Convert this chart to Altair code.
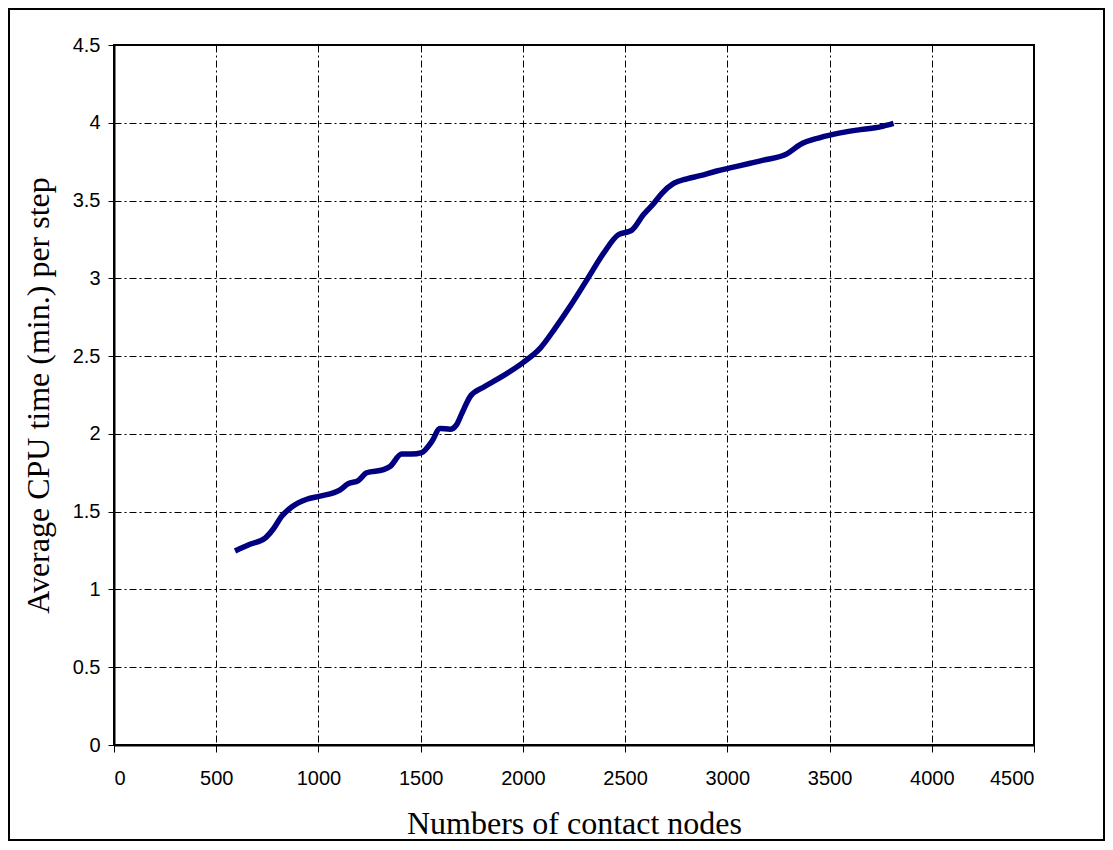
import altair as alt
import pandas as pd

nodes = [592, 665, 739, 780, 820, 869, 943, 1008, 1106, 1146, 1195, 1236, 1318, 1350,
         1407, 1456, 1505, 1554, 1595, 1644, 1676, 1701, 1742, 1807, 1880, 2002, 2084,
         2158, 2231, 2313, 2394, 2467, 2516, 2533, 2590, 2639, 2679, 2737, 2802, 2867,
         2948, 3013, 3112, 3177, 3291, 3356, 3454, 3552, 3650, 3748, 3813]
cpu = [1.247, 1.29, 1.33, 1.39, 1.47, 1.53, 1.58, 1.60, 1.64, 1.68, 1.70, 1.75, 1.77, 1.79,
       1.87, 1.87, 1.88, 1.95, 2.035, 2.03, 2.06, 2.13, 2.24, 2.30, 2.355, 2.46, 2.55,
       2.68, 2.82, 2.99, 3.16, 3.28, 3.30, 3.31, 3.41, 3.48, 3.545, 3.61, 3.64, 3.66,
       3.69, 3.71, 3.74, 3.76, 3.80, 3.86, 3.905, 3.935, 3.956, 3.974, 3.996]

x_ticks = [0, 500, 1000, 1500, 2000, 2500, 3000, 3500, 4000, 4500]
y_ticks = [0, 0.5, 1, 1.5, 2, 2.5, 3, 3.5, 4, 4.5]

df = pd.DataFrame({"nodes": nodes, "cpu": cpu})

W, H = 920, 700
dash = [7, 3, 2, 3]

common = dict(
    grid=True, gridColor="black", gridDash=dash, gridWidth=1, gridOpacity=1,
    domainColor="black", domainWidth=2,
    tickColor="black", tickWidth=1,
    labelFont="Liberation Sans", labelFontSize=20, labelColor="black",
    labelExpr="datum.value + ''",
    titleFont="Liberation Serif", titleFontSize=32,
    titleFontWeight="normal", titleColor="black",
)

line = alt.Chart(df).mark_line(color="#000080", strokeWidth=5.5, interpolate="monotone").encode(
    x=alt.X("nodes:Q", scale=alt.Scale(domain=[0, 4500], nice=False),
            axis=alt.Axis(values=x_ticks, title="Numbers of contact nodes",
                          tickSize=7, labelPadding=16, titlePadding=20, **common)),
    y=alt.Y("cpu:Q", scale=alt.Scale(domain=[0, 4.5], nice=False),
            axis=alt.Axis(values=y_ticks, title="Average CPU time (min.) per step",
                          tickSize=6, labelPadding=8, titlePadding=17, **common)),
)

frame = alt.Chart(df).mark_rect(fill=None, stroke="black", strokeWidth=2, clip=False).encode(
    x=alt.value(-105), x2=alt.value(W + 70),
    y=alt.value(-36), y2=alt.value(H + 95),
)

chart = alt.layer(frame, line).properties(
    width=W, height=H,
    autosize=alt.AutoSizeParams(type="none"),
    padding={"left": 106, "top": 37, "right": 71, "bottom": 96},
    background="white",
).configure_view(stroke="black", strokeWidth=2)

chart.save("out.html", embed_options={"renderer": "svg", "actions": False})
